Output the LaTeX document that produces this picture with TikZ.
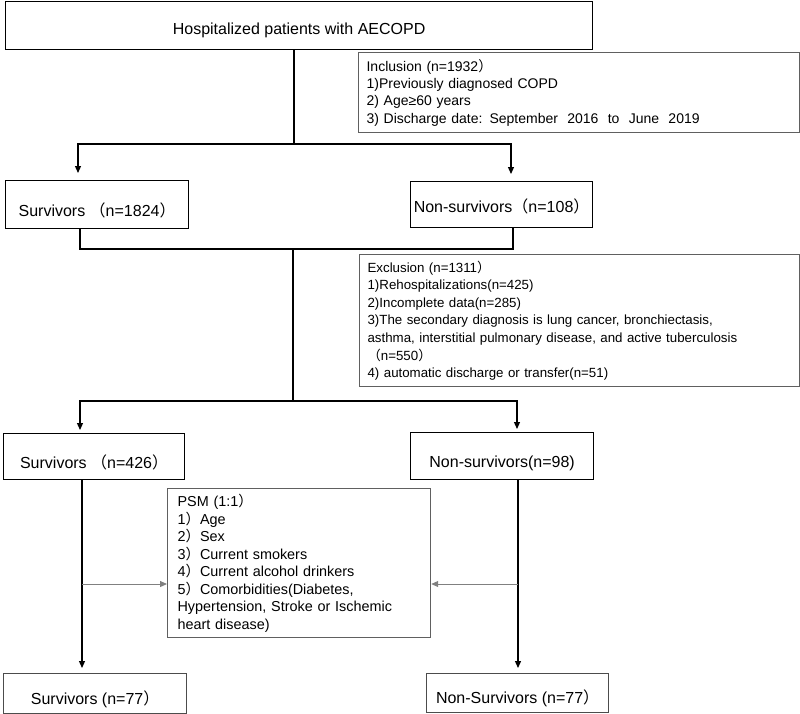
\documentclass[tikz,border=0pt]{standalone}
\usepackage{fontspec}
\setmainfont{Liberation Sans}
\newfontfamily\cjk{Noto Sans CJK SC}
\newcommand{\fwlp}{{\cjk （}}
\newcommand{\fwrp}{{\cjk ）}}
\usetikzlibrary{arrows.meta}

\begin{document}
\begin{tikzpicture}[x=1pt,y=-1pt]
	\tikzstyle{box}=[draw,line width=1.2pt,anchor=north west,inner sep=0pt,text depth=0pt,font=\fontsize{16}{19}\selectfont]
	\tikzstyle{crit}=[draw=gray!75!black,line width=1.2pt,anchor=north west,inner xsep=8pt,inner ysep=0pt,align=left]
	\tikzstyle{link}=[line width=1.2pt]
	\tikzstyle{arr}=[link,-{Triangle[length=7pt,width=6pt]}]
	\tikzstyle{match}=[line width=1pt,draw=gray,-{Triangle[length=7pt,width=6pt]}]

	\useasboundingbox (0,0) rectangle (800,713);

	\node[box,minimum width=587pt,minimum height=48pt,text height=17.4pt] (adm) at (5,1) {Hospitalized patients with AECOPD};
	\node[crit,text width=425pt,minimum height=80pt,font=\fontsize{14}{17.3}\selectfont] (inc) at (358,52) {Inclusion (n=1932\fwrp\\1)Previously diagnosed COPD\\2) Age≥60 years\\3) Discharge date: September\ \ 2016\ \ to\ \ June\ \ 2019};
	\node[box,minimum width=183pt,minimum height=48pt,text height=23.4pt] (sv1) at (5,180) {Survivors \fwlp n=1824\fwrp};
	\node[box,minimum width=182pt,minimum height=46pt,text height=15.4pt] (ns1) at (410,181) {Non-survivors\fwlp n=108\fwrp};
	\node[crit,text width=424pt,minimum height=132pt,font=\fontsize{13.3}{17.6}\selectfont] (exc) at (359,254) {Exclusion (n=1311\fwrp\\1)Rehospitalizations(n=425)\\2)Incomplete data(n=285)\\3)The secondary diagnosis is lung cancer, bronchiectasis,\\asthma, interstitial pulmonary disease, and active tuberculosis\\\fwlp n=550\fwrp\\4) automatic discharge or transfer(n=51)};
	\node[box,minimum width=181pt,minimum height=46pt,text height=24.4pt] (sv2) at (3,433) {Survivors \fwlp n=426\fwrp};
	\node[box,minimum width=183pt,minimum height=47pt,text height=22.4pt] (ns2) at (410,432) {Non-survivors(n=98)};
	\node[crit,inner xsep=10pt,text width=243pt,minimum height=149pt,font=\fontsize{14.4}{17.5}\selectfont] (psm) at (167,488) {PSM (1:1\fwrp\\1\fwrp Age\\2\fwrp Sex\\3\fwrp Current smokers\\4\fwrp Current alcohol drinkers\\5\fwrp Comorbidities(Diabetes,\\Hypertension, Stroke or Ischemic\\heart disease)};
	\node[box,draw=gray!60!black,minimum width=183pt,minimum height=40pt,text height=22pt] (sv3) at (3,673) {Survivors (n=77\fwrp};
	\node[box,draw=gray!60!black,minimum width=182pt,minimum height=39pt,text height=21.4pt] (ns3) at (426,673) {Non-Survivors (n=77\fwrp};

	\coordinate (j1) at (294,144);
	\coordinate (c1) at (78,144);
	\coordinate (c2) at (511,144);
	\draw[link] (adm.south -| j1) -- (j1);
	\draw[arr,shorten >=7pt] (j1) -- (c1) -- (c1 |- sv1.north);
	\draw[arr,shorten >=7pt] (j1) -- (c2) -- (c2 |- ns1.north);

	\coordinate (b1) at (80,249);
	\coordinate (b2) at (513,249);
	\coordinate (j2) at (293,249);
	\coordinate (j3) at (293,401);
	\draw[link] (sv1.south -| b1) -- (b1) -- (b2) -- (ns1.south -| b2);
	\draw[link] (j2) -- (j3);

	\coordinate (d1) at (80,401);
	\coordinate (d2) at (517,401);
	\draw[arr,shorten >=3pt] (j3) -- (d1) -- (d1 |- sv2.north);
	\draw[arr,shorten >=3pt] (j3) -- (d2) -- (d2 |- ns2.north);

	\coordinate (e1) at (82,584);
	\coordinate (e2) at (518,584);
	\draw[arr,shorten >=5pt] (sv2.south -| e1) -- (sv3.north -| e1);
	\draw[arr,shorten >=5pt] (ns2.south -| e2) -- (ns3.north -| e2);
	\draw[match] (e1) -- (e1 -| psm.west);
	\draw[match] (e2) -- (e2 -| psm.east);
\end{tikzpicture}
\end{document}
